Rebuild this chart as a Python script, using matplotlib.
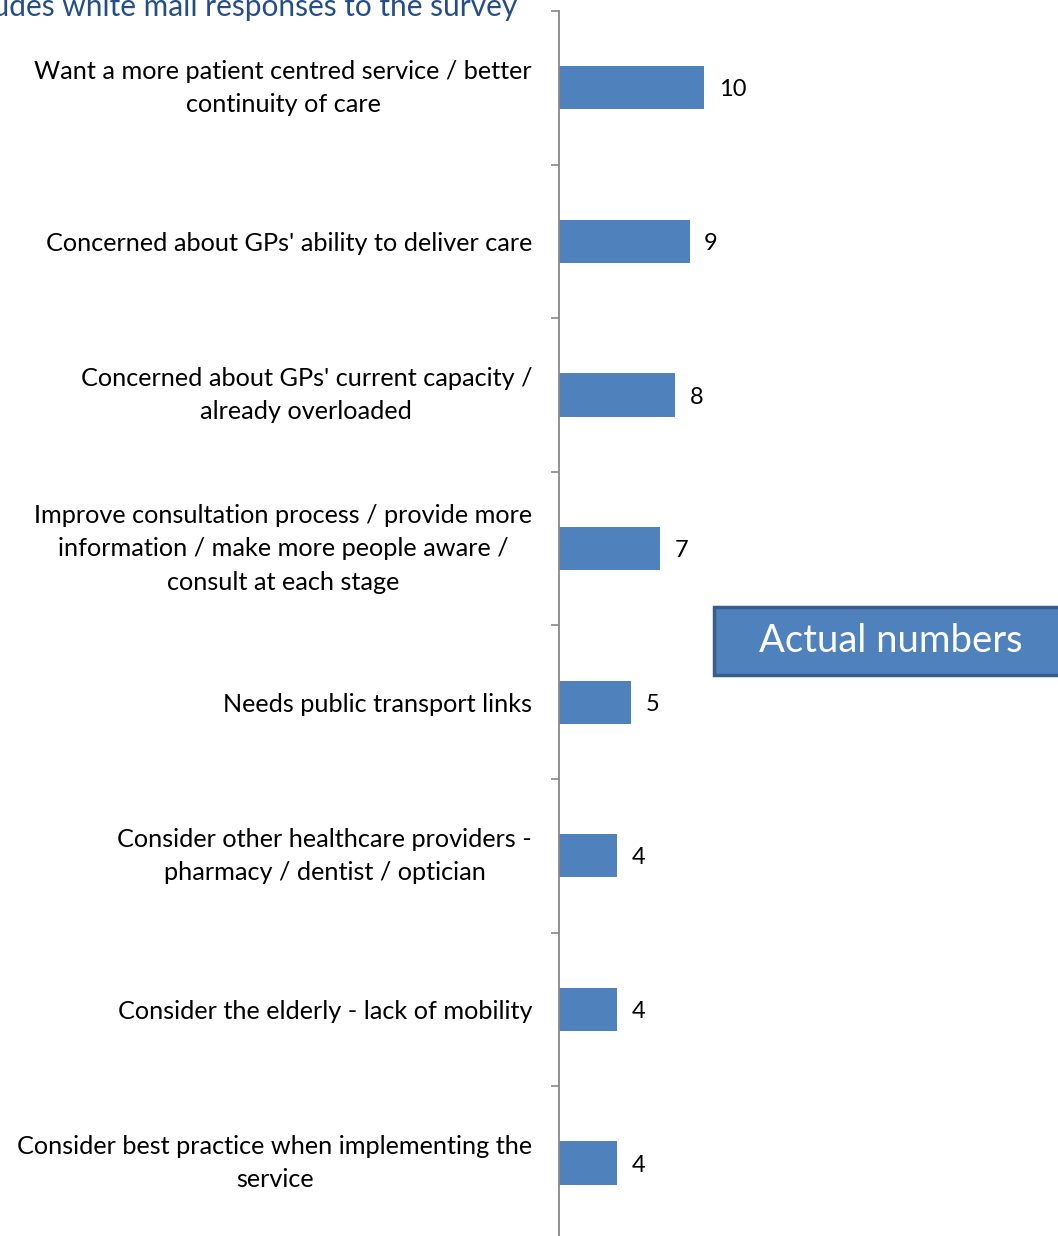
import matplotlib
matplotlib.use("Agg")
import matplotlib.pyplot as plt
from matplotlib.patches import Rectangle

categories = [
    "Want a more patient centred service / better\ncontinuity of care",
    "Concerned about GPs' ability to deliver care",
    "Concerned about GPs' current capacity /\nalready overloaded",
    "Improve consultation process / provide more\ninformation / make more people aware /\nconsult at each stage",
    "Needs public transport links",
    "Consider other healthcare providers -\npharmacy / dentist / optician",
    "Consider the elderly - lack of mobility",
    "Consider best practice when implementing the\nservice",
]
values = [10, 9, 8, 7, 5, 4, 4, 4]
title_text = "Includes white mail responses to the survey"
box_text = "Actual numbers"

plt.rcParams['font.family'] = ['Lato', 'DejaVu Sans']

W, H = 1058, 1236
fig = plt.figure(figsize=(W / 100, H / 100), dpi=100)

ax_left = 558.5 / W
ax_top = 11 / H
step = 153.6
n = len(categories)
ax_h = n * step / H
ax_bottom = 1 - ax_top - ax_h
ax_w = 1 - ax_left
ax = fig.add_axes([ax_left, ax_bottom, ax_w, ax_h])

pos = list(range(n))
ax.barh(pos, values, height=0.28, color='#4F81BD', zorder=2)
px_per_unit = 14.57
ax.set_xlim(0, (W - 558.5) / px_per_unit)
ax.set_ylim(n - 0.5, -0.5)

for p, v in zip(pos, values):
    ax.annotate(str(v), xy=(v, p), xytext=(10.5, 0), textcoords='offset points',
                va='center_baseline', ha='left', fontsize=17, color='black')

ax.set_yticks([i - 0.5 for i in range(n + 1)])
ax.set_yticklabels([])
ax.set_yticks(pos, minor=True)
labels = ax.set_yticklabels(categories, minor=True, fontsize=18.2, ha='right',
                            multialignment='center', linespacing=1.55)
for lab in labels:
    if '\n' in lab.get_text():
        lab.set_va('center')
ax.tick_params(axis='y', which='major', length=6, width=1.2, color='#888888')
ax.tick_params(axis='y', which='minor', length=0, pad=19)
ax.set_xticks([])
for s in ['top', 'right', 'bottom']:
    ax.spines[s].set_visible(False)
ax.spines['left'].set_color('#888888')
ax.spines['left'].set_linewidth(1.3)

fig.text(517 / W, 1 - 16 / H, title_text, ha='right', va='baseline',
         fontsize=21.5, color='#254E86')

# Box
bx0, by0, bx1, by1 = 714, 607, 1070, 675
rect = Rectangle((bx0 / W, 1 - by1 / H), (bx1 - bx0) / W, (by1 - by0) / H,
                 transform=fig.transFigure, facecolor='#4F81BD',
                 edgecolor='#385D8A', linewidth=2.5)
fig.patches.append(rect)
fig.text(891 / W, 1 - 641 / H, box_text, ha='center', va='center',
         fontsize=27.5, color='white')

fig.savefig('out.png', dpi=100)
